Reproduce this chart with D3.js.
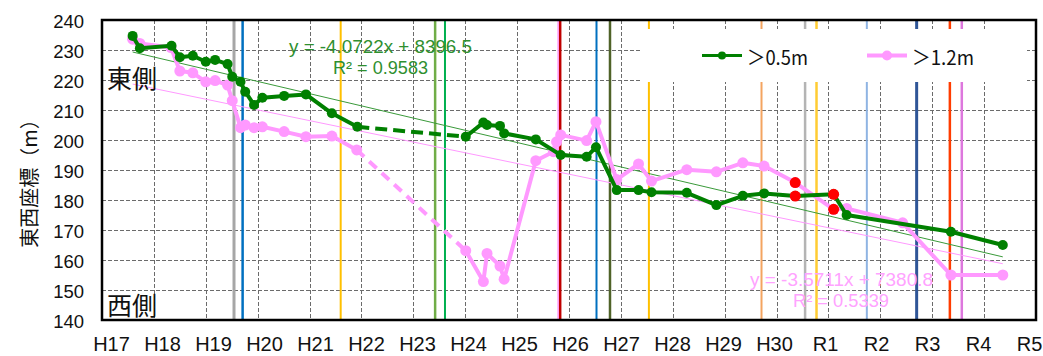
<!DOCTYPE html>
<html>
<head>
<meta charset="utf-8">
<script src="https://cdn.jsdelivr.net/npm/d3@7"></script>
<style>
  html, body { margin: 0; padding: 0; background: #fff; }
  svg { display: block; }
</style>
</head>
<body>
<svg id="chart" width="1043" height="356"></svg>
<script>
// Fiscal years on the axis (H17 = 2005 ... R5 = 2023)
const years = d3.range(2005, 2024);
const yearLabels = ["H17","H18","H19","H20","H21","H22","H23","H24","H25","H26",
                    "H27","H28","H29","H30","R1","R2","R3","R4","R5"];
const yTicks = d3.range(140, 241, 10);

// Shoreline east-west coordinate (m), depth > 0.5 m
const shallowBefore = [
  [2005.59, 234.7], [2005.73, 230.6], [2006.34, 231.4], [2006.50, 227.6], [2006.75, 228.1],
  [2007.00, 226.1], [2007.18, 226.7], [2007.42, 225.3], [2007.51, 221.1], [2007.67, 219.4],
  [2007.76, 216.1], [2007.93, 211.7], [2008.09, 214.1], [2008.51, 214.7], [2008.93, 215.2],
  [2009.43, 208.9], [2009.92, 204.4]
];
const shallowAfter = [
  [2012.01, 201.1], [2012.35, 205.8], [2012.42, 205.0], [2012.67, 204.7], [2012.75, 202.2],
  [2013.36, 200.2], [2013.84, 195.0], [2014.34, 194.4], [2014.52, 197.6], [2014.92, 183.3],
  [2015.34, 183.3], [2015.59, 182.6], [2016.27, 182.4], [2016.84, 178.3], [2017.35, 181.4],
  [2017.76, 182.2], [2018.36, 181.3], [2019.10, 181.9], [2019.35, 175.0], [2021.36, 169.4],
  [2022.36, 165.0]
];

// Depth > 1.2 m
const deepBefore = [
  [2005.59, 233.6], [2005.73, 232.2], [2006.33, 230.8], [2006.50, 223.0], [2006.75, 222.4],
  [2007.00, 219.4], [2007.18, 219.8], [2007.42, 218.3], [2007.51, 213.1], [2007.67, 204.1],
  [2007.76, 205.0], [2007.93, 204.1], [2008.09, 204.4], [2008.51, 202.8], [2008.93, 201.1],
  [2009.43, 201.3], [2009.91, 196.7]
];
const deepAfter = [
  [2012.01, 163.1], [2012.35, 152.8], [2012.42, 162.2], [2012.67, 158.0], [2012.75, 153.6],
  [2013.36, 193.1], [2013.70, 196.1], [2013.76, 199.4], [2013.84, 201.7], [2014.34, 199.8],
  [2014.52, 206.1], [2014.92, 186.8], [2015.34, 192.0], [2015.59, 186.3], [2016.27, 190.1],
  [2016.84, 189.4], [2017.35, 192.4], [2017.76, 191.3], [2018.36, 185.8], [2019.10, 176.9],
  [2019.35, 177.2], [2020.43, 172.4], [2021.36, 155.0], [2022.36, 155.0]
];

// Highlighted surveys
const highlighted = [[2018.36, 185.8], [2018.36, 181.3], [2019.10, 181.9], [2019.10, 176.9]];

// Linear trends (slope, intercept) and fit quality
const shallowTrend = { slope: -4.0722, intercept: 8396.5, r2: 0.9583 };
const deepTrend    = { slope: -3.5711, intercept: 7380.8, r2: 0.5339 };
const trendSpan = [2005.59, 2022.36];

// Event dates shown as vertical lines
const eventYears  = [2007.544, 2007.71, 2009.60, 2011.42, 2011.61, 2013.79, 2013.83, 2014.53,
                     2014.79, 2015.54, 2017.71, 2018.55, 2018.77, 2019.74, 2020.70, 2021.34, 2021.57];
const eventColors = ["#a6a6a6", "#0070c0", "#ffc000", "#70ad47", "#00b050", "#ff99ff", "#c00000", "#0070c0",
                     "#4f6228", "#ffc000", "#f4a460", "#b4b4b4", "#ffcc33", "#8fb4e3", "#2f5597", "#ff3c00", "#dd77dd"];
const eventWidths = [3, 2.5, 2, 2.5, 2, 1.5, 2.5, 2, 2.5, 2, 2, 2.5, 2.5, 2, 3, 2.5, 2.5];

const GREEN = "#008000", PINK = "#ff99ff";
const LATIN = "'Liberation Sans', Arial, sans-serif";
const CJK = "'Noto Sans CJK JP', 'Noto Sans CJK SC', sans-serif";

const svg = d3.select("#chart");
const plot = { left: 102, right: 1036, top: 20, bottom: 320 };

const x = d3.scaleLinear().domain([2005, 2023]).range([plot.left, plot.right]);
const y = d3.scaleLinear().domain([140, 240]).range([plot.bottom, plot.top]);
// Year captions sit slightly inset from the grid
const labelX = d3.scaleLinear().domain([2005, 2023]).range([111, 1029]);

// Grid
const grid = svg.append("g").attr("stroke", "#6b6b6b").attr("stroke-width", 1)
  .attr("stroke-dasharray", "4,2").attr("shape-rendering", "crispEdges");
grid.selectAll("line.v").data(years.slice(1, -1)).join("line")
  .attr("x1", d => Math.round(x(d)) + 0.5).attr("x2", d => Math.round(x(d)) + 0.5)
  .attr("y1", plot.top).attr("y2", plot.bottom);
grid.selectAll("line.h").data(yTicks.slice(1, -1)).join("line")
  .attr("x1", plot.left).attr("x2", plot.right)
  .attr("y1", d => Math.round(y(d)) + 0.5).attr("y2", d => Math.round(y(d)) + 0.5);

// Event lines
svg.append("g").selectAll("line").data(eventYears).join("line")
  .attr("x1", d => x(d)).attr("x2", d => x(d))
  .attr("y1", plot.top).attr("y2", plot.bottom)
  .attr("stroke", (d, i) => eventColors[i])
  .attr("stroke-width", (d, i) => eventWidths[i]);

// Trend lines
function trendLine(t, color) {
  svg.append("line")
    .attr("x1", x(trendSpan[0])).attr("y1", y(t.slope * trendSpan[0] + t.intercept))
    .attr("x2", x(trendSpan[1])).attr("y2", y(t.slope * trendSpan[1] + t.intercept))
    .attr("stroke", color).attr("stroke-width", 1);
}
trendLine(shallowTrend, "#3a9a3a");
trendLine(deepTrend, PINK);

const line = d3.line().x(d => x(d[0])).y(d => y(d[1]));

function series(before, after, color, r, dash) {
  const g = svg.append("g");
  [before, after].forEach(seg => {
    g.append("path").attr("d", line(seg)).attr("fill", "none")
      .attr("stroke", color).attr("stroke-width", 4).attr("stroke-linejoin", "round");
  });
  g.append("path").attr("d", line([before[before.length - 1], after[0]]))
    .attr("fill", "none").attr("stroke", color).attr("stroke-width", 4)
    .attr("stroke-dasharray", dash);
  g.selectAll("circle").data(before.concat(after)).join("circle")
    .attr("cx", d => x(d[0])).attr("cy", d => y(d[1])).attr("r", r).attr("fill", color);
}
series(deepBefore, deepAfter, PINK, 5.5, "10,7");
series(shallowBefore, shallowAfter, GREEN, 5, "12,6");

svg.append("g").selectAll("circle").data(highlighted).join("circle")
  .attr("cx", d => x(d[0])).attr("cy", d => y(d[1])).attr("r", 5.5).attr("fill", "#ff0000");

// Legend
const lg = svg.append("g");
lg.append("rect").attr("x", 642).attr("y", 29).attr("width", 385).attr("height", 53).attr("fill", "#fff");
const legendItems = [
  { label: "＞0.5m", color: GREEN, r: 4, w: 3, x0: 702, tx: 747, tl: 61 },
  { label: "＞1.2m", color: PINK, r: 5, w: 4, x0: 867, tx: 912, tl: 62 }
];
legendItems.forEach(it => {
  lg.append("line").attr("x1", it.x0).attr("x2", it.x0 + 40).attr("y1", 55.5).attr("y2", 55.5)
    .attr("stroke", it.color).attr("stroke-width", it.w);
  lg.append("circle").attr("cx", it.x0 + 20).attr("cy", 55.5).attr("r", it.r).attr("fill", it.color);
  lg.append("text").attr("x", it.tx).attr("y", 56).attr("dominant-baseline", "central")
    .attr("font-family", CJK).attr("font-size", 20).attr("fill", "#111")
    .attr("textLength", it.tl).attr("lengthAdjust", "spacingAndGlyphs").text(it.label);
});

// Trend equations
function equation(t, color, x1, y1, w1, x2, y2, w2) {
  const sign = t.intercept < 0 ? "-" : "+";
  svg.append("text").attr("x", x1).attr("y", y1).attr("dominant-baseline", "central")
    .attr("font-family", LATIN).attr("font-size", 18).attr("fill", color)
    .attr("textLength", w1).attr("lengthAdjust", "spacingAndGlyphs")
    .text(`y = ${t.slope}x ${sign} ${Math.abs(t.intercept)}`);
  svg.append("text").attr("x", x2).attr("y", y2).attr("dominant-baseline", "central")
    .attr("font-family", LATIN).attr("font-size", 18).attr("fill", color)
    .attr("textLength", w2).attr("lengthAdjust", "spacingAndGlyphs")
    .text(`R² = ${t.r2}`);
}
equation(shallowTrend, "#2f8f2f", 289, 46.5, 183, 333, 68, 95);
equation(deepTrend, "#ffa3ff", 750, 280, 183, 793, 301, 96);

// Side labels
svg.append("text").attr("x", 107).attr("y", 77).attr("dominant-baseline", "central")
  .attr("font-family", CJK).attr("font-size", 25).attr("fill", "#111").text("東側");
svg.append("text").attr("x", 107).attr("y", 304).attr("dominant-baseline", "central")
  .attr("font-family", CJK).attr("font-size", 25).attr("fill", "#111").text("西側");

// Axes
const yAxis = svg.append("g").attr("transform", `translate(84,0)`)
  .call(d3.axisLeft(y).tickValues(yTicks).tickSize(0).tickPadding(0));
yAxis.select(".domain").remove();
yAxis.selectAll("text").attr("font-family", LATIN).attr("font-size", 18.5).attr("fill", "#111")
  .attr("dy", "0.42em");

const xAxis = svg.append("g").attr("transform", `translate(0,351)`)
  .call(d3.axisBottom(labelX).tickValues(years).tickFormat((d, i) => yearLabels[i])
    .tickSize(0).tickPadding(0));
xAxis.select(".domain").remove();
xAxis.selectAll("text").attr("font-family", LATIN).attr("font-size", 20).attr("fill", "#111")
  .attr("dy", 0).attr("y", 0);

svg.append("text").attr("transform", "translate(28,178.5) rotate(-90)")
  .attr("text-anchor", "middle").attr("dominant-baseline", "central")
  .attr("font-family", CJK).attr("font-size", 20).attr("fill", "#111").text("東西座標（m）");

// Plot frame
svg.append("rect").attr("x", plot.left).attr("y", plot.top)
  .attr("width", plot.right - plot.left).attr("height", plot.bottom - plot.top)
  .attr("fill", "none").attr("stroke", "#000").attr("stroke-width", 2.5);
</script>
</body>
</html>
